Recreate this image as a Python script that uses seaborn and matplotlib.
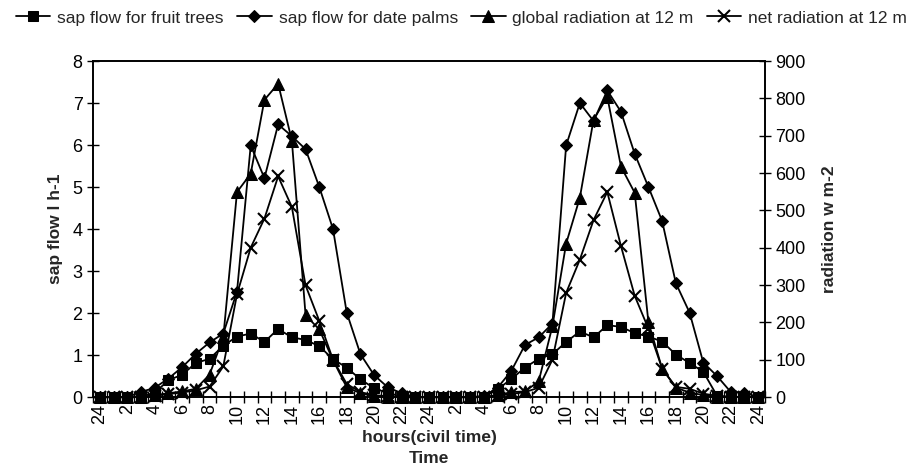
import numpy as np
import pandas as pd
import matplotlib
matplotlib.use("Agg")
import matplotlib.pyplot as plt
import seaborn as sns

hour_labels = ["24", "2", "4", "6", "8", "10", "12", "14", "16", "18", "20", "22",
               "24", "2", "4", "6", "8", "10", "12", "14", "16", "18", "20", "22", "24"]

fruit = [0, 0, 0, 0.02, 0.1, 0.4, 0.53, 0.81, 0.91, 1.22, 1.44, 1.51, 1.31, 1.62, 1.42,
         1.36, 1.21, 0.9, 0.7, 0.42, 0.21, 0.09, 0.02, 0, 0, 0, 0, 0, 0, 0.18, 0.43, 0.7,
         0.91, 1.02, 1.31, 1.56, 1.42, 1.71, 1.67, 1.52, 1.44, 1.32, 1.01, 0.81, 0.6, 0.03,
         0, 0, 0]
palms = [0, 0, 0, 0.12, 0.22, 0.44, 0.71, 1.03, 1.3, 1.51, 2.51, 5.99, 5.21, 6.49, 6.21,
         5.9, 5.0, 4.0, 2.01, 1.02, 0.52, 0.23, 0.09, 0, 0, 0, 0, 0, 0.02, 0.22, 0.62, 1.24,
         1.42, 1.75, 5.99, 7.0, 6.57, 7.3, 6.79, 5.79, 5.0, 4.19, 2.71, 2.01, 0.82, 0.5,
         0.12, 0.1, 0]
global_rad = [0, 0, 0, 0, 5, 10, 15, 22, 60, 160, 549, 598, 796, 839, 687, 219, 181, 99,
              26, 10, 2, 0, 0, 0, 0, 0, 0, 0, 0, 5, 13, 15, 42, 190, 411, 534, 743, 804,
              617, 547, 200, 76, 25, 12, 5, 0, 0, 0, 0]
net_rad = [0, 0, 0, 0, 3, 8, 12, 18, 28, 82, 275, 400, 478, 591, 509, 299, 204, 100, 35,
           13, 5, 2, 0, 0, 0, 0, 0, 0, 0, 3, 8, 13, 25, 100, 279, 368, 474, 549, 404, 271,
           183, 76, 27, 22, 9, 3, 0, 0, 0]

idx = np.arange(len(fruit))
df = pd.DataFrame({"t": idx, "fruit": fruit, "palms": palms,
                   "global": global_rad, "net": net_rad})

sns.set_style("ticks")
plt.rcParams["font.family"] = ["Liberation Sans", "DejaVu Sans"]

fig = plt.figure(figsize=(9.23, 4.69), dpi=100)
ax = fig.add_axes([93 / 923, 1 - 397 / 469, 672 / 923, 336 / 469])
ax2 = ax.twinx()

lw = 1.3
common = dict(color="black", linewidth=lw, markeredgecolor="black",
              markerfacecolor="black", clip_on=False)
sns.lineplot(data=df, x="t", y="fruit", ax=ax, marker="s", markersize=7.5,
             label="sap flow for fruit trees", legend=False, **common)
sns.lineplot(data=df, x="t", y="palms", ax=ax, marker="D", markersize=6,
             label="sap flow for date palms", legend=False, **common)
sns.lineplot(data=df, x="t", y="global", ax=ax2, marker="^", markersize=8,
             label="global radiation at 12 m", legend=False, **common)
sns.lineplot(data=df, x="t", y="net", ax=ax2, marker="x", markersize=8,
             markeredgewidth=1.5, markeredgecolor="black", clip_on=False,
             label="net radiation at 12 m", legend=False,
             color="black", linewidth=lw)

ax.set_xlim(-0.5, len(fruit) - 0.5)
ax.set_ylim(0, 8)
ax2.set_ylim(0, 900)
ax.set_yticks(range(0, 9))
ax2.set_yticks(range(0, 901, 100))
ax.set_xticks(np.arange(0, len(fruit), 2))
ax.set_xticklabels(hour_labels, rotation=90)
ax.set_xticks(np.arange(-0.5, len(fruit), 1), minor=True)

for a in (ax, ax2):
    for s in a.spines.values():
        s.set_visible(True)
        s.set_linewidth(1.2)
        s.set_color("black")

ax.tick_params(axis="x", which="major", length=0, labelsize=13, pad=5, colors="black")
ax.tick_params(axis="x", which="minor", length=8, width=1.0, direction="inout",
               color="black")
ax.tick_params(axis="y", length=8, width=1.0, direction="inout", labelsize=13,
               colors="black")
ax2.tick_params(axis="y", length=8, width=1.0, direction="inout", labelsize=13,
                colors="black")

ax.set_ylabel("sap flow l h-1", fontsize=12.5, fontweight="bold", labelpad=7)
ax2.set_ylabel("radiation w m-2", fontsize=12.5, fontweight="bold", labelpad=12)
ax.set_xlabel("hours(civil time)\nTime", fontsize=12.5, fontweight="bold",
              linespacing=1.55, labelpad=4)

h1, l1 = ax.get_legend_handles_labels()
h2, l2 = ax2.get_legend_handles_labels()
fig.legend(h1 + h2, l1 + l2, loc="upper center", bbox_to_anchor=(0.5, 1.0),
           ncol=4, frameon=False, fontsize=12.5, handlelength=2.0,
           handletextpad=0.4, columnspacing=0.75, borderaxespad=0.2)

fig.savefig("out.png", dpi=100)
